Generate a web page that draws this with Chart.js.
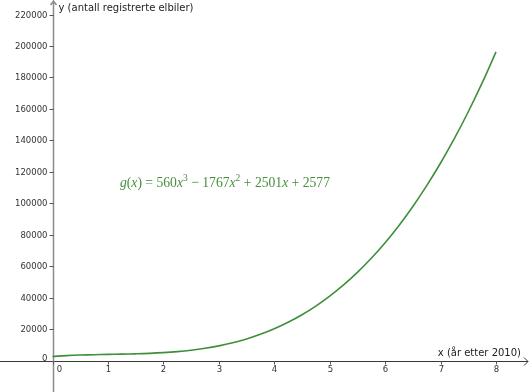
<!DOCTYPE html>
<html lang="no">
<head>
    <meta charset="UTF-8">
    <title>Elbiler</title>
    <script src="https://cdn.jsdelivr.net/npm/chart.js"></script>
    <style>
        html, body {
            margin: 0;
            padding: 0;
            background: #ffffff;
        }
        .chart-container {
            width: 530px;
            height: 392px;
            position: relative;
        }
    </style>
</head>
<body>
    <div class="chart-container">
        <canvas id="gChart"></canvas>
    </div>

    <script>
        const years = [0, 0.25, 0.5, 0.75, 1, 1.25, 1.5, 1.75, 2, 2.25, 2.5, 2.75, 3, 3.25, 3.5, 3.75,
                       4, 4.25, 4.5, 4.75, 5, 5.25, 5.5, 5.75, 6, 6.25, 6.5, 6.75, 7, 7.25, 7.5, 7.75, 8];
        const cars = [2577, 3101, 3456, 3695, 3871, 4036, 4243, 4544, 4991, 5638, 6536, 7738, 9297,
                      11264, 13695, 16639, 20149, 24279, 29080, 34605, 40907, 48038, 56051, 64998,
                      74931, 85904, 97968, 111176, 125581, 141235, 158191, 176501, 196217];
        const xTicks = [0, 1, 2, 3, 4, 5, 6, 7, 8];
        const yTicks = [0, 20000, 40000, 60000, 80000, 100000, 120000, 140000, 160000, 180000, 200000, 220000];
        const xTitle = 'x (år etter 2010)';
        const yTitle = 'y (antall registrerte elbiler)';

        // axes drawn by hand, GeoGebra style (crossing at origin)
        const axesPlugin = {
            id: 'axes',
            beforeDatasetsDraw(chart) {
                const ctx = chart.ctx;
                const xs = chart.scales.x, ys = chart.scales.y;
                const ox = Math.round(xs.getPixelForValue(0)) + 0.5;
                const oy = Math.round(ys.getPixelForValue(0)) + 0.5;
                const W = chart.width, H = chart.height;
                ctx.save();

                // x axis
                ctx.strokeStyle = '#3a3a3a';
                ctx.lineWidth = 1;
                ctx.beginPath();
                ctx.moveTo(0, oy);
                ctx.lineTo(W - 2, oy);
                ctx.moveTo(W - 6, oy - 4);
                ctx.lineTo(W - 2, oy);
                ctx.lineTo(W - 6, oy + 4);
                ctx.stroke();

                // y axis
                ctx.strokeStyle = '#8c8c8c';
                ctx.lineWidth = 1.5;
                ctx.beginPath();
                ctx.moveTo(ox, H);
                ctx.lineTo(ox, 1);
                ctx.moveTo(ox - 3, 5);
                ctx.lineTo(ox, 1);
                ctx.lineTo(ox + 3, 5);
                ctx.stroke();

                ctx.font = '8.5px "DejaVu Sans"';
                ctx.fillStyle = '#333';
                ctx.strokeStyle = '#555';
                ctx.lineWidth = 1;

                // x ticks
                ctx.textAlign = 'center';
                ctx.textBaseline = 'middle';
                xTicks.forEach(v => {
                    const px = Math.round(xs.getPixelForValue(v)) + 0.5;
                    ctx.beginPath();
                    ctx.moveTo(px, oy);
                    ctx.lineTo(px, oy + 3);
                    ctx.stroke();
                    ctx.fillText(String(v), v === 0 ? px + 6 : px, oy + 8.5);
                });

                // y ticks
                ctx.textAlign = 'right';
                yTicks.forEach(v => {
                    const py = Math.round(ys.getPixelForValue(v)) + 0.5;
                    if (v !== 0) {
                        ctx.beginPath();
                        ctx.moveTo(ox - 4, py);
                        ctx.lineTo(ox, py);
                        ctx.stroke();
                    }
                    ctx.fillText(String(v), ox - 6, v === 0 ? py - 3 : py);
                });

                // axis titles
                ctx.font = '10px "DejaVu Sans"';
                ctx.fillStyle = '#222';
                ctx.textAlign = 'left';
                ctx.fillText(yTitle, ox + 5, 8);
                ctx.textAlign = 'right';
                ctx.fillText(xTitle, W - 9, oy - 8);
                ctx.restore();
            },
            afterDatasetsDraw(chart) {
                // formula label
                const ctx = chart.ctx;
                const parts = [
                    ['g', 'i'], ['(', 'n'], ['x', 'i'], [') = 560', 'n'], ['x', 'i'], ['3', 's'],
                    [' − 1767', 'n'], ['x', 'i'], ['2', 's'], [' + 2501', 'n'], ['x', 'i'], [' + 2577', 'n']
                ];
                const size = 15;
                const fontFor = t => t === 'i' ? 'italic ' + size + 'px "Liberation Serif"'
                    : t === 's' ? (size * 0.7) + 'px "Liberation Serif"'
                    : size + 'px "Liberation Serif"';
                ctx.save();
                ctx.fillStyle = '#468f3c';
                ctx.textBaseline = 'alphabetic';
                ctx.textAlign = 'left';
                let total = 0;
                parts.forEach(p => { ctx.font = fontFor(p[1]); total += ctx.measureText(p[0]).width; });
                const k = 210 / total;
                let x = 120;
                const base = 187;
                parts.forEach(p => {
                    ctx.font = fontFor(p[1]);
                    const w = ctx.measureText(p[0]).width;
                    ctx.save();
                    ctx.translate(x, p[1] === 's' ? base - 6.5 : base);
                    ctx.scale(k, 1);
                    ctx.fillText(p[0], 0, 0);
                    ctx.restore();
                    x += w * k;
                });
                ctx.restore();
            }
        };

        const ctx = document.getElementById('gChart').getContext('2d');
        new Chart(ctx, {
            type: 'line',
            data: {
                datasets: [{
                    label: 'g(x)',
                    data: years.map((x, i) => ({ x: x, y: cars[i] })),
                    borderColor: '#3f8f3a',
                    borderWidth: 1.6,
                    pointRadius: 0,
                    tension: 0.4,
                    fill: false
                }]
            },
            options: {
                responsive: true,
                maintainAspectRatio: false,
                animation: false,
                layout: { padding: 0 },
                plugins: {
                    legend: { display: false },
                    tooltip: { enabled: false }
                },
                scales: {
                    x: { type: 'linear', min: -0.947, max: 8.613, display: false },
                    y: { type: 'linear', min: -20030, max: 229250, display: false }
                }
            },
            plugins: [axesPlugin]
        });
    </script>
</body>
</html>
